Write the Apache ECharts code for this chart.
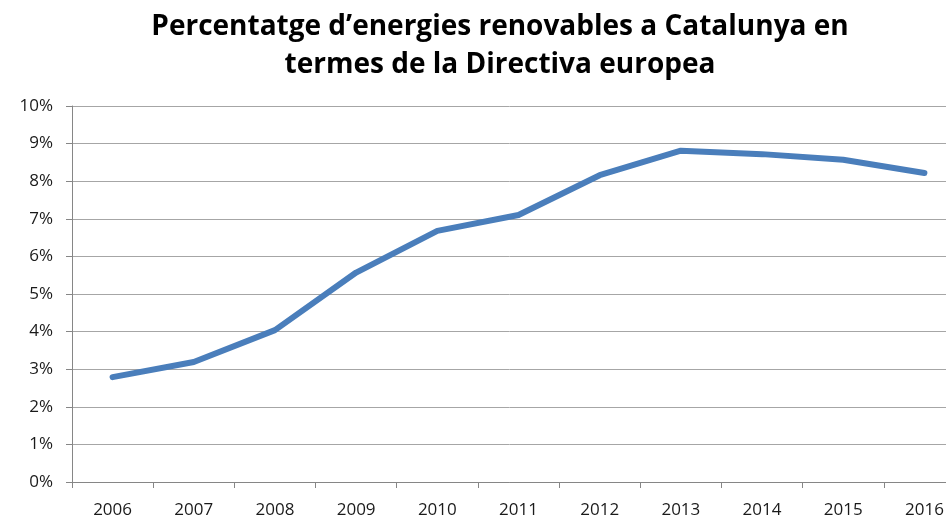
<!DOCTYPE html>
<html><head><meta charset="utf-8">
<script src="https://cdn.jsdelivr.net/npm/echarts@6/dist/echarts.min.js"></script>
<style>html,body{margin:0;padding:0;background:#fff}#c{width:946px;height:518px}</style>
</head><body><div id="c"></div>
<script>
const titleText = 'Percentatge d\u2019energies renovables a Catalunya en\ntermes de la Directiva europea';
const years = ['2006','2007','2008','2009','2010','2011','2012','2013','2014','2015','2016'];
const renewablePct = [2.79, 3.19, 4.04, 5.57, 6.68, 7.10, 8.16, 8.81, 8.72, 8.57, 8.22];
const yTicks = [0,1,2,3,4,5,6,7,8,9,10];

const chart = echarts.init(document.getElementById('c'), null, {renderer:'canvas'});
chart.setOption({
  animation:false,
  title:{
    text:titleText, left:495, top:3, textAlign:'center',
    textStyle:{fontFamily:'Open Sans', fontWeight:'bold', fontSize:28, lineHeight:38, color:'#000'}
  },
  grid:{left:72, top:106, width:893, height:376, containLabel:false, outerBoundsMode:'none'},
  xAxis:{
    type:'category', data:years, boundaryGap:true,
    axisLine:{lineStyle:{color:'#868686', width:1}},
    axisTick:{show:true, length:6, alignWithLabel:false, lineStyle:{color:'#868686'}},
    axisLabel:{fontFamily:'Open Sans', fontSize:17, color:'#1a1a1a', margin:20}
  },
  yAxis:{
    type:'value', min:0, max:10, interval:1,
    axisLine:{show:true, lineStyle:{color:'#868686', width:1}},
    axisTick:{show:true, length:6, lineStyle:{color:'#868686'}},
    axisLabel:{fontFamily:'Open Sans', fontSize:17, color:'#1a1a1a', margin:19,
      formatter:function(v){return yTicks.indexOf(v)>=0 ? v+'%' : '';}},
    splitLine:{lineStyle:{color:'#a6a6a6', width:1}}
  },
  series:[{
    type:'line', data:renewablePct, symbol:'none', smooth:false,
    lineStyle:{color:'#4a7ebb', width:6, cap:'round', join:'round'}
  }]
});
</script></body></html>
